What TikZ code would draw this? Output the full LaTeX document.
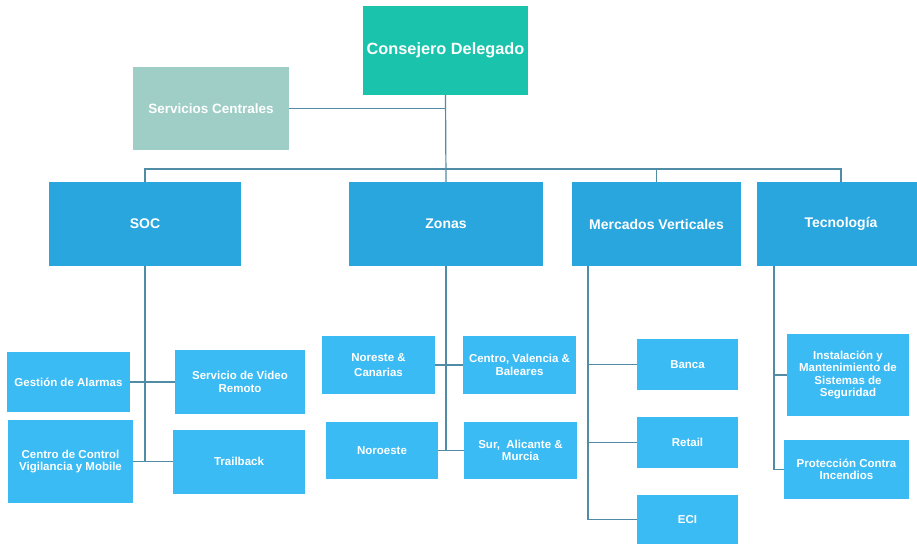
\documentclass[tikz,border=0pt]{standalone}
\usepackage{fontspec}
\setmainfont{Liberation Sans}
\definecolor{headcol}{RGB}{26,196,172}
\definecolor{staffcol}{RGB}{158,206,198}
\definecolor{areacol}{RGB}{41,166,222}
\definecolor{unitcol}{RGB}{59,187,244}
\definecolor{linkcol}{RGB}{80,140,165}
\tikzset{
  box/.style={rectangle, text=white, align=center, inner sep=1pt},
  head/.style={box, fill=headcol, font=\fontsize{16.3}{19}\selectfont\bfseries},
  staff/.style={box, fill=staffcol, font=\fontsize{13.5}{16}\selectfont\bfseries},
  area/.style={box, fill=areacol, minimum height=84pt, font=\fontsize{14}{16}\selectfont\bfseries},
  unit/.style={box, fill=unitcol, font=\fontsize{11.5}{12.6}\selectfont\bfseries},
  link/.style={draw=linkcol, line width=1.2pt}
}
\begin{document}
\begin{tikzpicture}[x=1pt, y=-1pt]
  \useasboundingbox[fill=white] (0,0) rectangle (917,546);

  % top
  \node[head, minimum width=165pt, minimum height=89pt] (cd) at (445.5,50.5) {Consejero Delegado};
  \node[staff, minimum width=156pt, minimum height=83pt] (sc) at (211,108.5) {Servicios Centrales};

  % areas
  \node[area, minimum width=192pt] (soc) at (145,224) {SOC};
  \node[area, minimum width=194pt] (zonas) at (446,224) {Zonas};
  \node[area, minimum width=169pt] (merc) at (656.5,224) {Mercados Verticales};
  \node[area, minimum width=168pt] (tec) at (841,224) {Tecnología};

  % SOC
  \node[unit, minimum width=123pt, minimum height=60pt] (gest) at (68.5,382) {Gestión de Alarmas};
  \node[unit, minimum width=130pt, minimum height=64pt] (video) at (240,382) {Servicio de Video\\Remoto};
  \node[unit, minimum width=125pt, minimum height=83pt] (ccv) at (70.5,461.5) {Centro de Control\\Vigilancia y Mobile};
  \node[unit, minimum width=132pt, minimum height=64pt] (trail) at (239,461.5) {Trailback};

  % Zonas
  \node[unit, minimum width=113pt, minimum height=58pt] (nor) at (378.5,365) {Noreste \&\\[3pt]Canarias};
  \node[unit, minimum width=113pt, minimum height=58pt] (cvb) at (519.5,365) {Centro, Valencia \&\\Baleares};
  \node[unit, minimum width=112pt, minimum height=57pt] (noro) at (382,450.5) {Noroeste};
  \node[unit, minimum width=113pt, minimum height=57pt] (sur) at (520.5,450.5) {Sur,\ \ Alicante \&\\Murcia};

  % Mercados
  \node[unit, minimum width=101pt, minimum height=51pt] (banca) at (687.5,364.5) {Banca};
  \node[unit, minimum width=101pt, minimum height=51pt] (retail) at (687.5,442.5) {Retail};
  \node[unit, minimum width=101pt, minimum height=49pt] (eci) at (687.5,519.5) {ECI};

  % Tecnologia
  \node[unit, minimum width=122pt, minimum height=82pt] (inst) at (848,375) {Instalación y\\Mantenimiento de\\Sistemas de\\Seguridad};
  \node[unit, minimum width=125pt, minimum height=59pt] (prot) at (846.5,469.5) {Protección Contra\\Incendios};

  \coordinate (bus) at (446,169);
  \coordinate (mv) at (588,266);
  \coordinate (tv) at (774,266);

  \path[link] (sc.east) -- (sc.east -| cd.south);
  \path[link] (cd.south) -- (zonas.north);
  \path[link] (soc.north) |- (bus) -| (tec.north);
  \path[link] (merc.north) |- (bus);

  \path[link] (soc.south) -- (soc.south |- ccv.east);
  \path[link] (gest.east) -- (video.west);
  \path[link] (ccv.east) -- (trail.west);

  \path[link] (zonas.south) -- (zonas.south |- noro.east);
  \path[link] (nor.east) -- (cvb.west);
  \path[link] (noro.east) -- (sur.west);

  \path[link] (mv) |- (eci.west);
  \path[link] (mv |- banca.west) -- (banca.west);
  \path[link] (mv |- retail.west) -- (retail.west);

  \path[link] (tv) |- (prot.west);
  \path[link] (tv |- inst.west) -- (inst.west);
\end{tikzpicture}
\end{document}
